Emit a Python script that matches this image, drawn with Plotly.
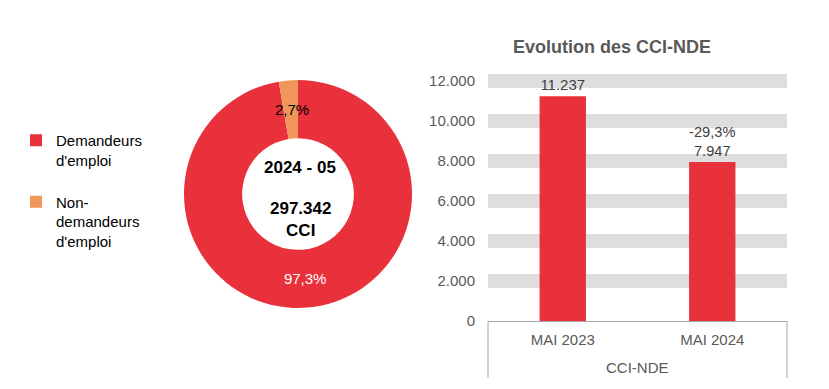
import plotly.graph_objects as go

# ---- data ----
pie_labels = ["Demandeurs<br>d'emploi<br> ", "Non-<br>demandeurs<br>d'emploi"]
pie_values = [289314, 8028]
period_label = "2024 - 05"

bar_group = "CCI-NDE"
bar_categories = ["MAI 2023", "MAI 2024"]
bar_values = [11237, 7947]
y_ticks = [0, 2000, 4000, 6000, 8000, 10000, 12000]

W, H = 829, 389
RED = "#E8313A"
ORANGE = "#F0965A"
GREY_TXT = "#595959"
AXIS = "#A6A6A6"
FONT = "Liberation Sans, Arial, sans-serif"

def px(x):
    return x / W

def py(y):
    return 1 - y / H

total = sum(pie_values)
fmt_int = lambda v: f"{v:,}".replace(",", ".")
pct_small = pie_values[1] / total * 100
change = (bar_values[1] - bar_values[0]) / bar_values[0] * 100
bar_prefix = ["", f"{change:.1f}".replace(".", ",") + "%<br>"]

fig = go.Figure()

fig.add_trace(go.Pie(
    labels=pie_labels,
    values=pie_values,
    hole=0.49,
    sort=False,
    direction="clockwise",
    rotation=0,
    marker=dict(colors=[RED, ORANGE], line=dict(width=0)),
    texttemplate=["%{percent:.1%}", ""],
    textposition="inside",
    insidetextorientation="horizontal",
    textfont=dict(color="white", size=15, family=FONT),
    domain=dict(x=[px(184), px(412)], y=[py(308), py(80)]),
    showlegend=True,
))

fig.add_trace(go.Bar(
    x=bar_categories,
    y=bar_values,
    customdata=bar_prefix,
    texttemplate="%{customdata}%{y:,.0f}",
    textposition="outside",
    textfont=dict(color="#404040", size=15, family=FONT),
    cliponaxis=False,
    marker=dict(color=RED, line=dict(width=0)),
    showlegend=False,
    xaxis="x", yaxis="y",
))

y_top = 12060
fig.update_layout(
    width=W, height=H,
    margin=dict(l=0, r=0, t=0, b=0),
    paper_bgcolor="white", plot_bgcolor="white",
    separators=",.",
    font=dict(family=FONT, size=15, color="#000000"),
    bargap=0.69,
    title=dict(text="<b>Evolution des CCI-NDE</b>", x=px(612), y=py(47),
               xanchor="center", yanchor="middle",
               font=dict(size=18, color=GREY_TXT, family=FONT)),
    legend=dict(x=px(16), y=py(124), xanchor="left", yanchor="top",
                font=dict(size=15, color="#000000", family=FONT),
                valign="top", bgcolor="rgba(0,0,0,0)"),
    xaxis=dict(domain=[px(488), px(787)], automargin=False,
               showline=False, showgrid=False, ticks="",
               ticklabelstandoff=8,
               tickfont=dict(size=15, color=GREY_TXT, family=FONT)),
    yaxis=dict(domain=[py(321), py(321 - y_top * 0.02)], range=[0, y_top],
               automargin=False,
               tickvals=y_ticks, tickformat=",.0f",
               showgrid=True, gridcolor="#DEDEDE", gridwidth=14,
               zeroline=True, zerolinecolor=AXIS, zerolinewidth=1,
               showline=False, ticks="", ticklabelstandoff=12,
               tickfont=dict(size=15, color=GREY_TXT, family=FONT)),
)

# category-axis box: side dividers below the axis
for xd in (0, 1):
    fig.add_shape(type="line", xref="x domain", yref="paper",
                  x0=xd, x1=xd, y0=py(378), y1=py(321),
                  line=dict(color=AXIS, width=1))
fig.add_annotation(x=0.5, y=py(367), xref="x domain", yref="paper",
                   yanchor="middle", text=bar_group, showarrow=False,
                   font=dict(size=15, color=GREY_TXT, family=FONT))

fig.add_annotation(x=px(300), y=py(167), xref="paper", yref="paper",
                   yanchor="middle", text=f"<b>{period_label}</b>", showarrow=False,
                   font=dict(size=17, color="#000000", family=FONT))
fig.add_annotation(x=px(300), y=py(219), xref="paper", yref="paper",
                   yanchor="middle", text=f"<b>{fmt_int(total)}<br>CCI</b>", showarrow=False,
                   font=dict(size=17, color="#000000", family=FONT))
fig.add_annotation(x=px(292), y=py(109), xref="paper", yref="paper",
                   yanchor="middle",
                   text=f"{pct_small:.1f}".replace(".", ",") + "%", showarrow=False,
                   font=dict(size=15, color="#000000", family=FONT))

fig.write_html("out.html", config={"displayModeBar": False},
               post_script="document.body.style.margin='0';")
